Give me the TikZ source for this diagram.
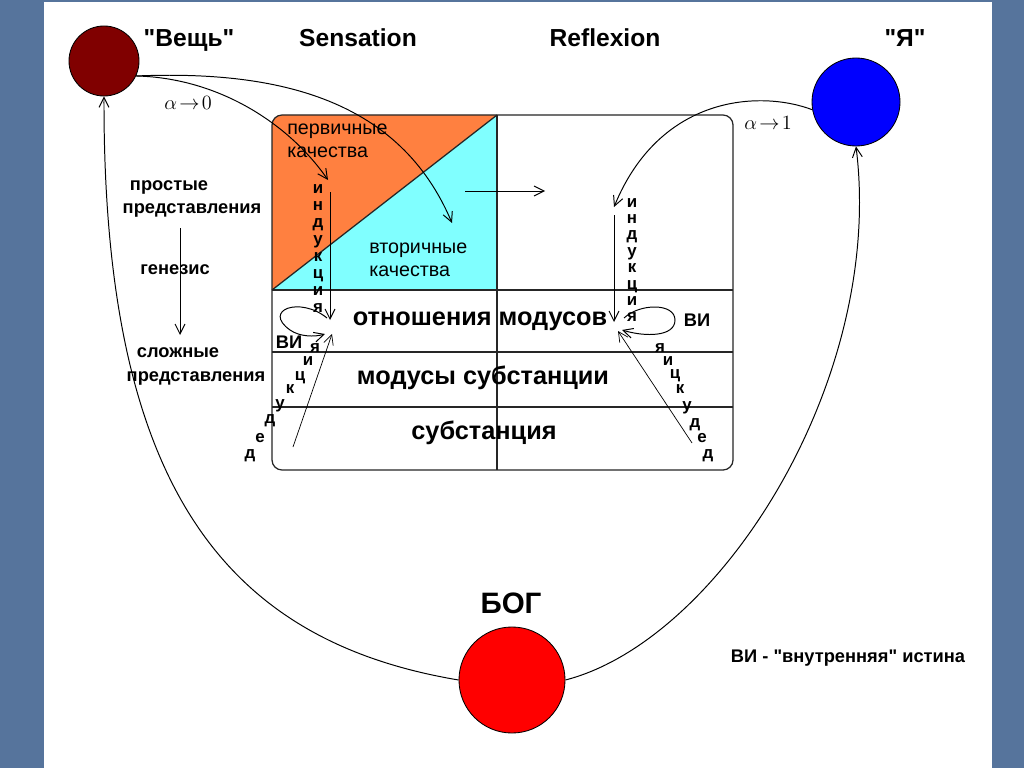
\documentclass[tikz,border=0pt]{standalone}
\usepackage{fontspec}
\setmainfont{Liberation Sans}[Ligatures=TeXOff]
\usetikzlibrary{arrows.meta}
\definecolor{slideblue}{RGB}{86,116,156}
\definecolor{thingred}{RGB}{128,0,0}
\definecolor{selfblue}{RGB}{0,0,255}
\definecolor{godred}{RGB}{255,0,0}
\definecolor{primorange}{RGB}{255,128,64}
\definecolor{secondcyan}{RGB}{128,255,255}
\tikzset{
  ball/.style={circle,draw=black,line width=0.6pt,inner sep=0pt},
  head/.style={font=\fontsize{17.5}{20}\selectfont\bfseries},
  cell/.style={font=\fontsize{18}{21}\selectfont\bfseries},
  qual/.style={font=\fontsize{14}{16.3}\selectfont,align=left,anchor=west,inner sep=0pt},
  side/.style={font=\fontsize{13}{15}\selectfont\bfseries},
  letter/.style={font=\fontsize{12}{13}\selectfont\bfseries,anchor=base,inner sep=0pt},
  grid/.style={line width=0.9pt,black!85},
  conn/.style={line width=0.7pt,-{Straight Barb[length=7pt,width=7pt]}},
}
\begin{document}
\begin{tikzpicture}[x=0.025cm,y=-0.025cm]
% slide
\fill[slideblue] (0,0) rectangle (1024,768);
\fill[white] (44,2) rectangle (992,768);
\useasboundingbox (0,0) rectangle (1024,768);
% table of qualities and modes
\begin{scope}
  \clip[rounded corners=0.25cm] (272,115) rectangle (733,470);
  \fill[primorange] (272,115) -- (497,115) -- (272,290) -- cycle;
  \fill[secondcyan] (497,115) -- (497,290) -- (272,290) -- cycle;
\end{scope}
\draw[grid] (272,290) -- (497,115);
\draw[grid] (497,115) -- (497,470);
\draw[grid] (272,290) -- (733,290);
\draw[grid] (272,352) -- (733,352);
\draw[grid] (272,407) -- (733,407);
\draw[grid,rounded corners=0.25cm] (272,115) rectangle (733,470);
\node[qual] (prim) at (287,141) {первичные\\качества};
\node[qual] (second) at (369,260) {вторичные\\качества};
\node[cell] (relmod) at (480,321) {отношения модусов};
\node[cell] (modsub) at (483,378) {модусы субстанции};
\node[cell] (subst) at (484,433) {субстанция};
% the three balls
\node[ball,fill=thingred,minimum size=1.75cm] (thing) at (104,61) {};
\node[ball,fill=selfblue,minimum size=2.2cm] (self) at (856,102) {};
\node[ball,fill=godred,minimum size=2.65cm] (god) at (512,680) {};
\node[head] (thinglabel) at (189,40) {"Вещь"};
\node[head] (sens) at (358,38) {Sensation};
\node[head] (refl) at (605,38) {Reflexion};
\node[head] (selflabel) at (905,38) {"Я"};
\node[font=\fontsize{21}{24}\selectfont\bfseries] (godlabel) at (511,603) {БОГ};
\node[side] (legend) at (848,658) {ВИ - "внутренняя" истина};
\node[font=\fontsize{15}{17}\selectfont] (azero) at (188,103) {$\alpha\!\rightarrow\!0$};
\node[font=\fontsize{15}{17}\selectfont] (aone) at (768,123) {$\alpha\!\rightarrow\!1$};
% genesis
\node[side] (simple) at (169,187) {простые};
\node[side] (simplerep) at (192,210) {представления};
\node[side] (genesis) at (175,270) {генезис};
\node[side] (complex) at (178,353) {сложные};
\node[side] (complexrep) at (196,378) {представления};
\coordinate (gtop) at (180,228);
\coordinate (gbot) at (180,335);
\draw[conn] (gtop) -- (gbot);
% big arcs through God
\draw[conn] (god.west) .. controls (220,640) and (103,480) .. (thing.south);
\draw[conn] (god.east) .. controls (720,640) and (885,380) .. (self.south);
% from the thing and from the self
\coordinate (lind) at (328,180);
\coordinate (sqtip) at (452,223);
\coordinate (rind) at (614,207);
\draw[conn] (thing.-25) .. controls (220,78) and (290,125) .. (lind);
\draw[conn] (thing.-25) .. controls (280,70) and (400,100) .. (sqtip);
\draw[conn] (self.190) .. controls (760,90) and (660,95) .. (rind);
\coordinate (qa) at (465,191);
\coordinate (qb) at (545,191);
\draw[conn] (qa) -- (qb);
% induction
\coordinate (lia) at (330,192);
\coordinate (lib) at (330,320);
\draw[conn] (lia) -- (lib);
\foreach \ch [count=\i from 0] in {и,н,д,у,к,ц,и,я}
  \node[letter] at (318,{193+17*\i}) {\ch};
\coordinate (ria) at (614,215);
\coordinate (rib) at (614,322);
\draw[conn] (ria) -- (rib);
\foreach \ch [count=\i from 0] in {и,н,д,у,к,ц,и,я}
  \node[letter] at (632,{207+16.4*\i}) {\ch};
% inner truth loops
\node[side] (lvi) at (289,342) {ВИ};
\node[side] (rvi) at (697,320) {ВИ};
\coordinate (lla) at (327,318);
\coordinate (llb) at (325,334);
\draw[conn] (lla) .. controls (300,296) and (262,310) .. (290,330) .. controls (300,337) and (315,337) .. (llb);
\coordinate (rla) at (624,318);
\coordinate (rlb) at (622,330);
\draw[conn] (rla) .. controls (640,303) and (675,303) .. (675,320) .. controls (675,337) and (645,337) .. (rlb);
% deduction
\coordinate (lda) at (293,447);
\coordinate (ldb) at (332,334);
\draw[conn,line width=0.5pt] (lda) -- (ldb);
\foreach \ch/\px/\py in {д/250/458,е/260/442,д/270/423,у/280/408,к/290/393,ц/300/380,и/308/365,я/315/352}
  \node[letter] at (\px,\py) {\ch};
\coordinate (rda) at (692,443);
\coordinate (rdb) at (618,331);
\draw[conn,line width=0.5pt] (rda) -- (rdb);
\foreach \ch/\px/\py in {я/660/352,и/668/365,ц/675/378,к/680/393,у/687/410,д/695/427,е/702/442,д/708/458}
  \node[letter] at (\px,\py) {\ch};
\end{tikzpicture}
\end{document}
